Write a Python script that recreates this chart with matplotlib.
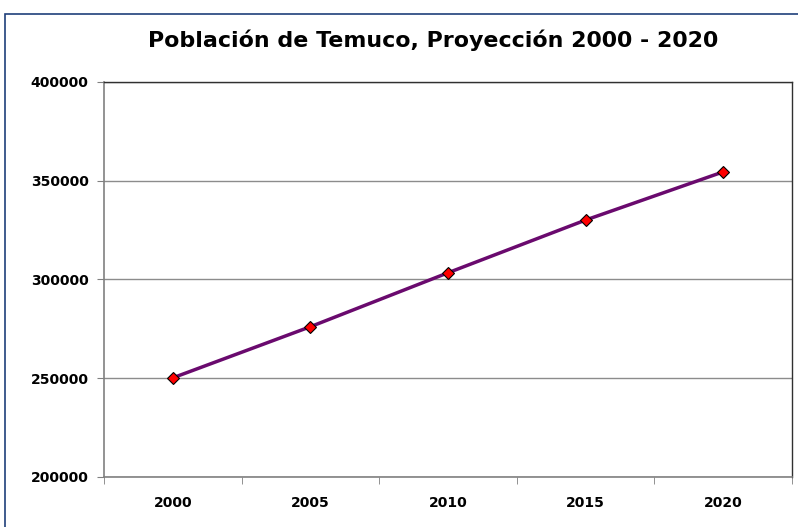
import matplotlib
matplotlib.use('Agg')
import matplotlib.pyplot as plt
from matplotlib.patches import Rectangle
from matplotlib.ticker import FixedLocator

# values
anios = ['2000', '2005', '2010', '2015', '2020']
poblacion = [250200, 276100, 303400, 330100, 354500]
y_ticks = [200000, 250000, 300000, 350000, 400000]
titulo = 'Población de Temuco, Proyección 2000 - 2020'

plt.rcParams['font.family'] = ['DejaVu Sans']

fig = plt.figure(figsize=(7.98, 5.27), dpi=100)
fig.patch.set_facecolor('white')

# outer chart frame (runs off the right/bottom edge in the original)
frame = Rectangle((5 / 798, -0.05), 1.1, 1 - 14 / 527 + 0.05,
                  transform=fig.transFigure, fill=False,
                  edgecolor='#1f3f7a', linewidth=1.2)
fig.patches.append(frame)

ax = fig.add_axes([104 / 798, 1 - 477 / 527, (792 - 104) / 798, (477 - 82) / 527])

x = list(range(len(anios)))
ax.plot(x, poblacion, color='#6a0a6e', linewidth=2.5, marker='D',
        markersize=6.6, markerfacecolor='#ff0000', markeredgecolor='black',
        markeredgewidth=0.8, zorder=3)

ax.set_xlim(-0.5, len(anios) - 0.5)
ax.set_ylim(200000, 400000)

ax.set_yticks(y_ticks)
ax.set_yticklabels([str(v) for v in y_ticks], fontsize=10, fontweight='bold')
ax.yaxis.grid(True, color='#8c8c8c', linewidth=1)
ax.set_axisbelow(True)

ax.set_xticks(x)
ax.set_xticklabels(anios, fontsize=10, fontweight='bold')
ax.xaxis.set_minor_locator(FixedLocator([i - 0.5 for i in range(len(anios) + 1)]))
ax.tick_params(axis='x', which='major', length=0, pad=13.5)
ax.tick_params(axis='x', which='minor', length=5, direction='out', color='#808080')
ax.tick_params(axis='y', length=5, direction='out', color='#808080', pad=6)

for s in ['left', 'bottom']:
    ax.spines[s].set_color('#808080')
    ax.spines[s].set_linewidth(1.2)
for s in ['top', 'right']:
    ax.spines[s].set_color('#303030')
    ax.spines[s].set_linewidth(1.0)

fig.text(433 / 798, 1 - 40 / 527, titulo, ha='center', va='center',
         fontsize=15.9, fontweight='bold')

fig.savefig('out.png', dpi=100)
